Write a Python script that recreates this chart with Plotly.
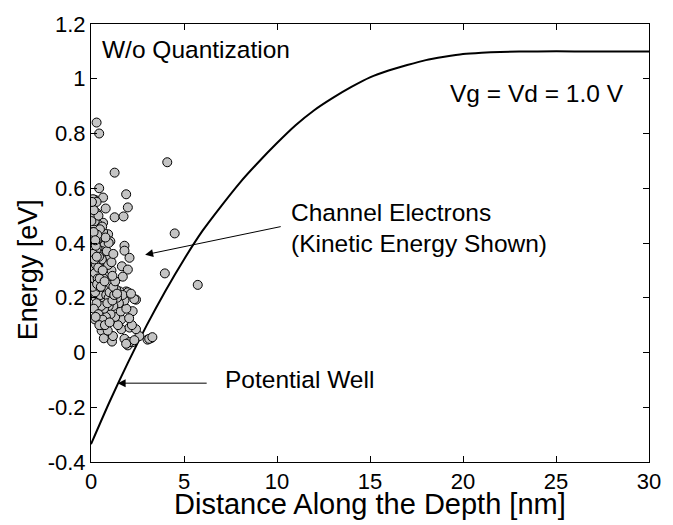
import plotly.graph_objects as go

# Potential well curve
well_x = [0, 1, 2, 3, 4, 5, 6, 7, 8, 9, 10, 11, 12, 13, 14, 15, 16, 17, 18, 19, 20, 21, 22, 24, 26, 30]
well_e = [-0.335, -0.18, -0.035, 0.10, 0.225, 0.34, 0.445, 0.535, 0.62, 0.695, 0.765, 0.83, 0.885, 0.93,
          0.97, 1.005, 1.03, 1.05, 1.068, 1.08, 1.09, 1.095, 1.098, 1.10, 1.10, 1.10]

# Channel electrons (kinetic energy)
elec_x = [0.30, 0.44, 4.10, 1.27, 0.44, 1.89, 0.65, 0.21, 0.10, 0.30,
          1.98, 0.79, 1.27, 1.75, 0.30, 0.12, 0.65, 4.50, 0.92, 1.04, 1.80, 1.80, 2.07, 5.74, 3.97,
          1.66, 1.98, 1.71, 1.27, 1.89, 1.45, 1.54, 1.98, 2.42, 2.33, 2.24, 0.21, 0.57, 0.69, 1.13,
          1.80, 1.98, 2.24, 2.60, 3.04, 3.22, 3.13, 3.30, 1.63, 2.07, 2.42, 1.36, 1.63, 2.07, 1.89,
          2.33, 1.18, 0.90, 0.55, 1.45, 2.20, 1.30, 1.60, 1.90, 1.05, 0.80, 0.35, 2.05, 1.80, 1.50,
          1.20, 1.70, 2.15, 1.40, 1.10, 0.95, 0.70, 0.50,
          0.05, 0.10, 0.15, 0.08, 0.20, 0.12, 0.25, 0.05, 0.18, 0.30, 0.10, 0.22, 0.35, 0.08, 0.28,
          0.15, 0.40, 0.05, 0.25, 0.45,
          0.35, 0.25, 0.40, 0.30, 0.45, 0.38, 0.50, 0.42, 0.55, 0.48, 0.60, 0.52, 0.65, 0.58, 0.70,
          0.62, 0.75, 0.55,
          0.03, 0.06, 0.02, 0.04, 0.03, 0.13, 0.18, 0.22, 0.14, 0.28, 0.20, 0.32, 0.12, 0.38, 0.26,
          0.42, 0.18, 0.33, 0.50, 0.22,
          0.65, 0.55, 0.70, 0.60, 0.75, 0.68, 0.80, 0.72, 0.85, 0.78, 0.90, 0.82, 0.95, 0.88, 1.00,
          1.05, 0.98, 1.10, 0.92, 1.02, 0.85, 0.95, 0.78, 0.60, 0.48, 0.20, 0.08, 0.40, 0.15, 0.05,
          1.15, 1.25, 1.35, 1.20, 1.30, 1.15, 1.40, 1.10, 1.20,
          0.30, 0.15, 0.40, 0.62, 0.25, 0.45, 0.75, 1.00,
          0.02, 0.02, 0.10, 0.35, 0.50, 0.45, 0.10, 0.32, 0.58, 0.68,
          0.02, 0.07, 0.12, 0.17, 0.24, 0.29, 0.34, 0.04, 0.09, 0.16, 0.21, 0.27, 0.36, 0.43,
          0.03, 0.11, 0.19, 0.26, 0.31, 0.39, 0.06, 0.14, 0.23, 0.33, 0.47, 0.53, 0.63, 0.73]
elec_e = [0.84, 0.80, 0.695, 0.657, 0.60, 0.578, 0.566, 0.558, 0.56, 0.55,
          0.53, 0.526, 0.494, 0.497, 0.51, 0.49, 0.474, 0.435, 0.432, 0.406, 0.39, 0.372, 0.346, 0.247, 0.289,
          0.315, 0.303, 0.277, 0.259, 0.223, 0.223, 0.223, 0.22, 0.193, 0.195, 0.151, 0.121, 0.08, 0.052, 0.04,
          0.05, 0.026, 0.038, 0.06, 0.047, 0.052, 0.05, 0.056, 0.085, 0.091, 0.085, 0.115, 0.121, 0.038, 0.032,
          0.045, 0.06, 0.08, 0.10, 0.10, 0.10, 0.13, 0.15, 0.16, 0.14, 0.13, 0.15, 0.125, 0.19, 0.18,
          0.17, 0.21, 0.215, 0.20, 0.20, 0.17, 0.16, 0.18,
          0.45, 0.42, 0.40, 0.38, 0.36, 0.34, 0.33, 0.32, 0.30, 0.29, 0.28, 0.27, 0.26, 0.25, 0.24,
          0.23, 0.22, 0.21, 0.20, 0.19,
          0.47, 0.44, 0.42, 0.40, 0.38, 0.36, 0.35, 0.33, 0.31, 0.29, 0.28, 0.26, 0.25, 0.23, 0.22,
          0.20, 0.19, 0.17,
          0.40, 0.36, 0.30, 0.26, 0.23, 0.46, 0.43, 0.39, 0.37, 0.35, 0.32, 0.31, 0.29, 0.28, 0.27,
          0.25, 0.25, 0.22, 0.21, 0.22,
          0.44, 0.41, 0.39, 0.37, 0.35, 0.33, 0.31, 0.29, 0.27, 0.25, 0.23, 0.21, 0.20, 0.18, 0.22,
          0.25, 0.28, 0.30, 0.32, 0.35, 0.37, 0.40, 0.42, 0.46, 0.45, 0.48, 0.50, 0.50, 0.52, 0.55,
          0.19, 0.21, 0.23, 0.24, 0.26, 0.28, 0.215, 0.33, 0.36,
          0.18, 0.16, 0.14, 0.12, 0.13, 0.10, 0.10, 0.11,
          0.43, 0.48, 0.30, 0.38, 0.30, 0.24, 0.44, 0.41, 0.34, 0.27,
          0.35, 0.31, 0.37, 0.33, 0.41, 0.37, 0.43, 0.28, 0.24, 0.27, 0.29, 0.32, 0.27, 0.35,
          0.39, 0.36, 0.34, 0.39, 0.35, 0.31, 0.43, 0.44, 0.41, 0.25, 0.27, 0.24, 0.30, 0.26]

x_ticks = [0, 5, 10, 15, 20, 25, 30]
x_ticktext = ["0", "5", "10", "15", "20", "25", "30"]
y_ticks = [-0.4, -0.2, 0, 0.2, 0.4, 0.6, 0.8, 1.0, 1.2]
y_ticktext = ["-0.4", "-0.2", "0", "0.2", "0.4", "0.6", "0.8", "1", "1.2"]

FONT = "Arial, Liberation Sans, sans-serif"

fig = go.Figure()
fig.add_trace(go.Scatter(x=well_x, y=well_e, mode="lines", line=dict(color="black", width=2, shape="spline", smoothing=0.6),
                         showlegend=False, hoverinfo="skip"))
fig.add_trace(go.Scatter(x=elec_x, y=elec_e, mode="markers",
                         marker=dict(size=9, color="#c4c4c4", line=dict(color="black", width=1)),
                         showlegend=False))

ann_font = dict(family=FONT, size=24.5, color="black")
fig.add_annotation(x=0.48, y=1.108, xref="x", yref="y", text="W/o Quantization", showarrow=False,
                   xanchor="left", yanchor="middle", font=ann_font)
fig.add_annotation(x=19.2, y=0.947, xref="x", yref="y", text="Vg = Vd = 1.0 V", showarrow=False,
                   xanchor="left", yanchor="middle", font=ann_font)
fig.add_annotation(x=10.65, y=0.510, xref="x", yref="y", text="Channel Electrons", showarrow=False,
                   xanchor="left", yanchor="middle", font=ann_font)
fig.add_annotation(x=10.65, y=0.398, xref="x", yref="y", text="(Kinetic Energy Shown)", showarrow=False,
                   xanchor="left", yanchor="middle", font=ann_font)
fig.add_annotation(x=7.1, y=-0.100, xref="x", yref="y", text="Potential Well", showarrow=False,
                   xanchor="left", yanchor="middle", font=ann_font)
# arrows
fig.add_annotation(x=2.91, y=0.357, ax=10.28, ay=0.461, xref="x", yref="y", axref="x", ayref="y",
                   text="", showarrow=True, arrowhead=2, arrowsize=1.6, arrowwidth=1, arrowcolor="black")
fig.add_annotation(x=1.43, y=-0.112, ax=6.30, ay=-0.112, xref="x", yref="y", axref="x", ayref="y",
                   text="", showarrow=True, arrowhead=2, arrowsize=1.6, arrowwidth=1, arrowcolor="black")

# axis titles
fig.add_annotation(x=0.5, y=-0.096, xref="paper", yref="paper", text="Distance Along the Depth [nm]",
                   showarrow=False, xanchor="center", yanchor="middle",
                   font=dict(family=FONT, size=29, color="black"))
fig.add_annotation(x=-0.113, y=0.44, xref="paper", yref="paper", text="Energy [eV]", textangle=-90,
                   showarrow=False, xanchor="center", yanchor="middle",
                   font=dict(family=FONT, size=27, color="black"))

axis_common = dict(showline=True, linecolor="black", linewidth=1, mirror="ticks", ticks="inside",
                   ticklen=6, tickcolor="black", showgrid=False, zeroline=False,
                   tickfont=dict(family=FONT, size=22, color="black"))
fig.update_xaxes(range=[0, 30], tickvals=x_ticks, ticktext=x_ticktext, **axis_common)
fig.update_yaxes(range=[-0.4, 1.2], tickvals=y_ticks, ticktext=y_ticktext, **axis_common)

fig.update_layout(width=673, height=525, margin=dict(l=91, r=16, t=16, b=63),
                  plot_bgcolor="white", paper_bgcolor="white", showlegend=False)

fig.write_html("out.html")
